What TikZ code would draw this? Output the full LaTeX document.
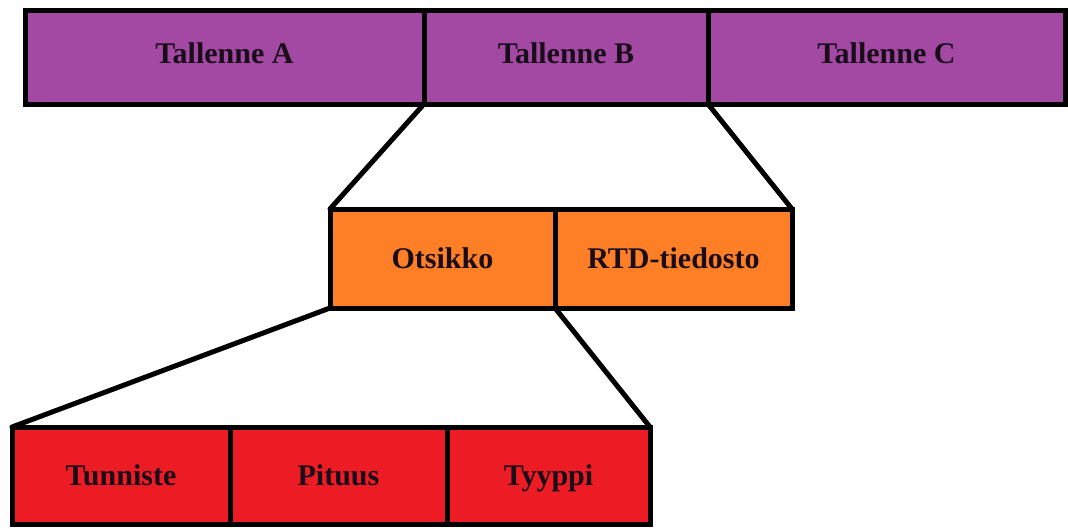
\documentclass[tikz,border=0pt]{standalone}
\usepackage{fontspec}
\setmainfont{Liberation Serif}
\definecolor{cpurple}{HTML}{A349A4}
\definecolor{corange}{HTML}{FF7F27}
\definecolor{cred}{HTML}{ED1C24}
\definecolor{ctext}{HTML}{1A0D1A}
\begin{document}
\begin{tikzpicture}[x=1pt,y=-1pt,
  cell/.style={draw=black, line width=5pt, line join=miter, rectangle, inner sep=0pt, outer sep=0pt,
    font=\fontsize{30}{34}\selectfont\bfseries, text=ctext, text height=19pt, text depth=0pt},
  toprow/.style={cell, fill=cpurple, minimum height=94pt, text depth=7pt},
  midrow/.style={cell, fill=corange, minimum height=99pt},
  botrow/.style={cell, fill=cred, minimum height=97pt},
  link/.style={draw=black, line width=5pt, line cap=round}]
\useasboundingbox (0,0) rectangle (1068,528);
% top row
\node[toprow, minimum width=399pt] (A) at (224.5,57) {Tallenne A};
\node[toprow, minimum width=357pt] (C) at (886.5,57) {Tallenne C};
\node[toprow, minimum width=284pt] (B) at (566,57) {Tallenne B};
% middle row
\node[midrow, minimum width=225pt] (O) at (442.5,258.5) {Otsikko};
\node[midrow, minimum width=237pt] (R) at (673.5,258.5) {RTD-tiedosto};
% bottom row
\node[botrow, minimum width=218pt] (Tu) at (121,475.5) {Tunniste};
\node[botrow, minimum width=203pt] (Ty) at (548.5,475.5) {Tyyppi};
\node[botrow, minimum width=217pt] (Pi) at (338.5,475.5) {Pituus};
% connectors
\draw[link] (B.south west) -- (O.north west);
\draw[link] (B.south east) -- (R.north east);
\draw[link] (O.south west) -- (Tu.north west);
\draw[link] (O.south east) -- (Ty.north east);
\end{tikzpicture}
\end{document}
